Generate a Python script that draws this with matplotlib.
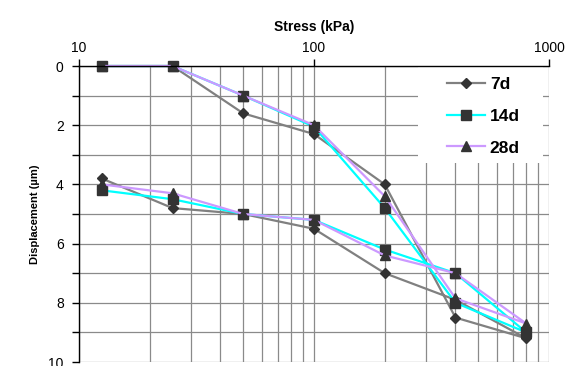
import matplotlib
matplotlib.use('Agg')
import matplotlib.pyplot as plt
from matplotlib.ticker import LogLocator, FixedLocator, FixedFormatter, NullFormatter
from matplotlib.patches import Rectangle

plt.rcParams['font.family'] = ['Liberation Sans', 'DejaVu Sans']

# loading then unloading path
stress = [12.5, 25, 50, 100, 200, 400, 800, 400, 200, 100, 50, 25, 12.5]
disp_7d = [0, 0, 1.6, 2.3, 4.0, 8.5, 9.2, 7.9, 7.0, 5.5, 5.0, 4.8, 3.8]
disp_14d = [0, 0, 1.0, 2.05, 4.8, 8.0, 9.0, 7.0, 6.2, 5.2, 5.0, 4.5, 4.2]
disp_28d = [0, 0, 1.0, 2.0, 4.4, 7.85, 8.7, 7.0, 6.4, 5.2, 5.0, 4.3, 4.0]

series = [
    ('7d', disp_7d, '#808080', 'D', 5.5),
    ('14d', disp_14d, '#00FFFF', 's', 6.5),
    ('28d', disp_28d, '#CC99FF', '^', 6.5),
]

fig = plt.figure(figsize=(5.79, 3.66), dpi=100)
ax = fig.add_axes([79 / 579, 1 - 362 / 366, 470 / 579, 296 / 366])

for label, vals, col, mk, ms in series:
    ax.plot(stress, vals, color=col, linewidth=1.6, marker=mk, markersize=ms,
            markerfacecolor='#333333', markeredgecolor='#333333', label=label,
            clip_on=False, zorder=3)

ax.set_xscale('log')
ax.set_xlim(10, 1000)
ax.set_ylim(10, 0)

ax.xaxis.tick_top()
ax.xaxis.set_label_position('top')
ax.xaxis.set_major_locator(FixedLocator([10, 100, 1000]))
ax.xaxis.set_major_formatter(FixedFormatter(['10', '100', '1000']))
ax.xaxis.set_minor_locator(LogLocator(base=10, subs=range(2, 10)))
ax.xaxis.set_minor_formatter(NullFormatter())
ax.set_yticks([0, 2, 4, 6, 8, 10])
ax.set_yticks([1, 3, 5, 7, 9], minor=True)

ax.tick_params(axis='x', which='major', direction='out', length=5, width=1, labelsize=10, pad=3)
ax.tick_params(axis='x', which='minor', length=0)
ax.tick_params(axis='y', which='major', direction='out', length=5, width=1, labelsize=10, pad=6)
ax.tick_params(axis='y', which='minor', direction='out', length=5, width=1)

ax.grid(True, which='both', color='#8a8a8a', linewidth=0.9)
ax.set_axisbelow(True)

for side in ['right', 'bottom']:
    ax.spines[side].set_visible(False)
for side in ['left', 'top']:
    ax.spines[side].set_linewidth(1.0)
    ax.spines[side].set_color('black')
    ax.spines[side].set_zorder(4)

ax.set_xlabel('Stress (kPa)', fontsize=10, fontweight='bold', labelpad=7)
ax.set_ylabel('Displacement (\u00b5m)', fontsize=8, fontweight='bold', labelpad=6)

# white legend background covering the grid
ax.add_patch(Rectangle((0.721, 0.672), 0.266, 0.328, transform=ax.transAxes,
                       facecolor='white', edgecolor='none', zorder=1))

leg = ax.legend(loc='center left', bbox_to_anchor=(0.765, 0.83), frameon=False,
                prop={'weight': 'bold', 'size': 12.5}, handlelength=2.2,
                handletextpad=0.25, labelspacing=0.95, borderpad=0.0)
leg.set_zorder(5)

fig.savefig('out.png', dpi=100)
